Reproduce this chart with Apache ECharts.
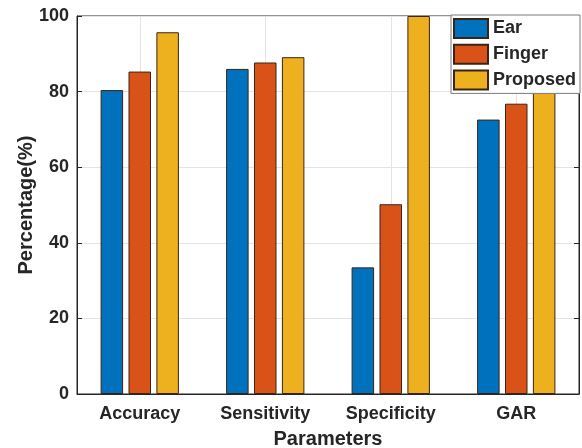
<!DOCTYPE html>
<html><head><meta charset="utf-8">
<script src="https://cdn.jsdelivr.net/npm/echarts@6/dist/echarts.min.js"></script>
<style>html,body{margin:0;padding:0;background:#fff}#c{width:582px;height:448px}</style>
</head><body><div id="c"></div>
<script>
var categories = ['Accuracy', 'Sensitivity', 'Specificity', 'GAR'];
var seriesNames = ['Ear', 'Finger', 'Proposed'];
var earValues = [80.4, 86.0, 33.5, 72.6];
var fingerValues = [85.3, 87.7, 50.2, 76.8];
var proposedValues = [95.7, 89.1, 100, 80.2];
var yTicks = [0, 20, 40, 60, 80, 100];
var colors = ['#0072BD', '#D95319', '#EDB120'];

var chart = echarts.init(document.getElementById('c'), null, {renderer: 'canvas'});
var font = 'Liberation Sans, Arial, sans-serif';
var txt = '#262626';
var allValues = [earValues, fingerValues, proposedValues];
var series = seriesNames.map(function (n, i) {
  return {
    name: n, type: 'bar', data: allValues[i],
    barWidth: 22.5, barGap: '24%',
    itemStyle: {color: colors[i], borderColor: '#3b2414', borderWidth: 1},
    emphasis: {disabled: true}
  };
});
chart.setOption({
  animation: false,
  backgroundColor: '#fff',
  grid: {left: 77, right: 3, top: 16, bottom: 54, outerBoundsMode: 'none', containLabel: false,
    show: true, borderColor: '#262626', borderWidth: 1, backgroundColor: 'transparent'},
  legend: {
    data: seriesNames, orient: 'vertical', left: 451, top: 15,
    itemWidth: 34, itemHeight: 19, itemGap: 4.7,
    padding: [3, 4, 3, 2],
    backgroundColor: '#fff', borderColor: '#7a7a7a', borderWidth: 1,
    textStyle: {fontFamily: font, fontSize: 18, fontWeight: 'bold', color: txt, lineHeight: 19},
    icon: 'rect'
  },
  xAxis: [{
    type: 'category', data: categories,
    name: 'Parameters', nameLocation: 'middle', nameGap: 35, nameMoveOverlap: false,
    nameTextStyle: {fontFamily: font, fontSize: 20, fontWeight: 'bold', color: txt},
    axisLine: {show: true, lineStyle: {color: '#262626'}},
    axisTick: {show: true, inside: true, alignWithLabel: true, length: 5, lineStyle: {color: '#262626'}},
    axisLabel: {fontFamily: font, fontSize: 18, fontWeight: 'bold', color: txt, margin: 11},
    splitLine: {show: true, alignWithLabel: true, lineStyle: {color: '#e3e3e3'}}
  }],
  yAxis: [{
    type: 'value', min: 0, max: 100, interval: 20,
    name: 'Percentage(%)', nameLocation: 'middle', nameGap: 41, nameMoveOverlap: false,
    nameTextStyle: {fontFamily: font, fontSize: 20, fontWeight: 'bold', color: txt},
    axisLine: {show: true, lineStyle: {color: '#262626'}},
    axisTick: {show: true, inside: true, length: 5, lineStyle: {color: '#262626'}},
    axisLabel: {fontFamily: font, fontSize: 18, fontWeight: 'bold', color: txt, margin: 8,
      formatter: function (v) { return yTicks.indexOf(v) >= 0 ? String(v) : ''; }},
    splitLine: {show: true, lineStyle: {color: '#e3e3e3'}}
  }, {
    type: 'value', min: 0, max: 100, interval: 20, position: 'right',
    axisLine: {show: true, lineStyle: {color: '#262626'}},
    axisTick: {show: true, inside: true, length: 5, lineStyle: {color: '#262626'}},
    axisLabel: {show: false}, splitLine: {show: false}
  }],
  series: series
});
</script></body></html>
